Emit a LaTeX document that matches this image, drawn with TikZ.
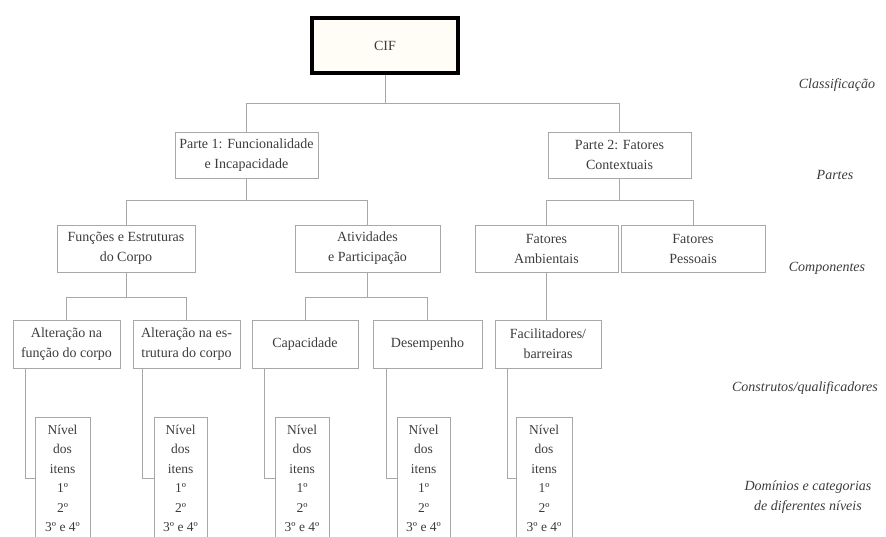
\documentclass[tikz,border=0pt]{standalone}
\usepackage{fontspec}
\setmainfont{Liberation Serif}
\definecolor{linegray}{HTML}{A8A8A8}
\definecolor{textgray}{HTML}{3C3C3C}
\definecolor{cream}{HTML}{FFFDF6}
\begin{document}
\begin{tikzpicture}[x=1pt,y=-1pt,
  box/.style={draw=linegray, line width=0.9pt, text=textgray,
    font=\fontsize{14}{20}\selectfont, align=center, inner sep=0pt},
  lvl/.style={box, minimum width=#1, minimum height=123pt,
    font=\fontsize{13.5}{19.5}\selectfont},
  toplbl/.style={draw=black, line width=4pt, fill=cream, text=textgray,
    font=\fontsize{14}{20}\selectfont, inner sep=0pt},
  side/.style={text=textgray, font=\fontsize{14}{20}\itshape\selectfont, align=center},
  conn/.style={draw=linegray, line width=0.9pt}]
\useasboundingbox (0,0) rectangle (886,536);

% top
\node[toplbl, minimum width=146pt, minimum height=55pt] (cif) at (385,45.5) {CIF};

% parts
\node[box, minimum width=143pt, minimum height=46pt] (p1) at (246.5,155) {Parte 1: Funcionalidade\\e Incapacidade};
\node[box, minimum width=143pt, minimum height=46pt] (p2) at (619.5,155) {Parte 2: Fatores\\Contextuais};

% components
\node[box, minimum width=138pt, minimum height=47pt] (fe) at (126,248.5) {Funções e Estruturas\\do Corpo};
\node[box, minimum width=145pt, minimum height=47pt] (ap) at (367.5,248.5) {Atividades\\e Participação};
\node[box, minimum width=143pt, minimum height=47pt] (fa) at (546.5,248.5) {Fatores\\Ambientais};
\node[box, minimum width=144pt, minimum height=47pt] (fp) at (693,248.5) {Fatores\\Pessoais};

% constructs
\node[box, minimum width=107pt, minimum height=48pt] (a1) at (66.5,344) {Alteração na\\função do corpo};
\node[box, minimum width=107pt, minimum height=48pt] (a2) at (186.5,344) {Alteração na es-\\trutura do corpo};
\node[box, minimum width=106pt, minimum height=48pt] (cap) at (305,344) {Capacidade};
\node[box, minimum width=109pt, minimum height=48pt] (des) at (427.5,344) {Desempenho};
\node[box, minimum width=106pt, minimum height=48pt] (fac) at (548,344) {Facilitadores/\\barreiras};

% levels
\node[lvl=55pt] (n1) at (62.5,478.5) {Nível\\dos\\itens\\1º\\2º\\3º e 4º};
\node[lvl=53pt] (n2) at (180.5,478.5) {Nível\\dos\\itens\\1º\\2º\\3º e 4º};
\node[lvl=54pt] (n3) at (302,478.5) {Nível\\dos\\itens\\1º\\2º\\3º e 4º};
\node[lvl=53pt] (n4) at (423.5,478.5) {Nível\\dos\\itens\\1º\\2º\\3º e 4º};
\node[lvl=56pt] (n5) at (544,478.5) {Nível\\dos\\itens\\1º\\2º\\3º e 4º};

% side labels
\node[side] (l1) at (837,85) {Classificação};
\node[side] (l2) at (835,175) {Partes};
\node[side] (l3) at (827,268) {Componentes};
\node[side] (l4) at (805,388) {Construtos/qualificadores};
\node[side] (l5) at (808,497) {Domínios e categorias\\de diferentes níveis};

% connectors
\draw[conn] (cif.south) -- ++(0,28) -| (p1.north);
\draw[conn] (cif.south) -- ++(0,28) -| (p2.north);
\draw[conn] (p1.south) -- ++(0,22) -| (fe.north);
\draw[conn] (p1.south) -- ++(0,22) -| (ap.north);
\draw[conn] (p2.south) -- ++(0,22) -| (fa.north);
\draw[conn] (p2.south) -- ++(0,22) -| (fp.north);
\draw[conn] (fe.south) -- ++(0,25) -| (a1.north);
\draw[conn] (fe.south) -- ++(0,25) -| (a2.north);
\draw[conn] (ap.south) -- ++(0,25) -| (cap.north);
\draw[conn] (ap.south) -- ++(0,25) -| (des.north);
\draw[conn] (fa.south) -- (fa.south |- fac.north);
\draw[conn] ([xshift=13pt]a1.south west) |- (n1.west);
\draw[conn] ([xshift=10pt]a2.south west) |- (n2.west);
\draw[conn] ([xshift=13pt]cap.south west) |- (n3.west);
\draw[conn] ([xshift=14pt]des.south west) |- (n4.west);
\draw[conn] ([xshift=13pt]fac.south west) |- (n5.west);
\end{tikzpicture}
\end{document}
